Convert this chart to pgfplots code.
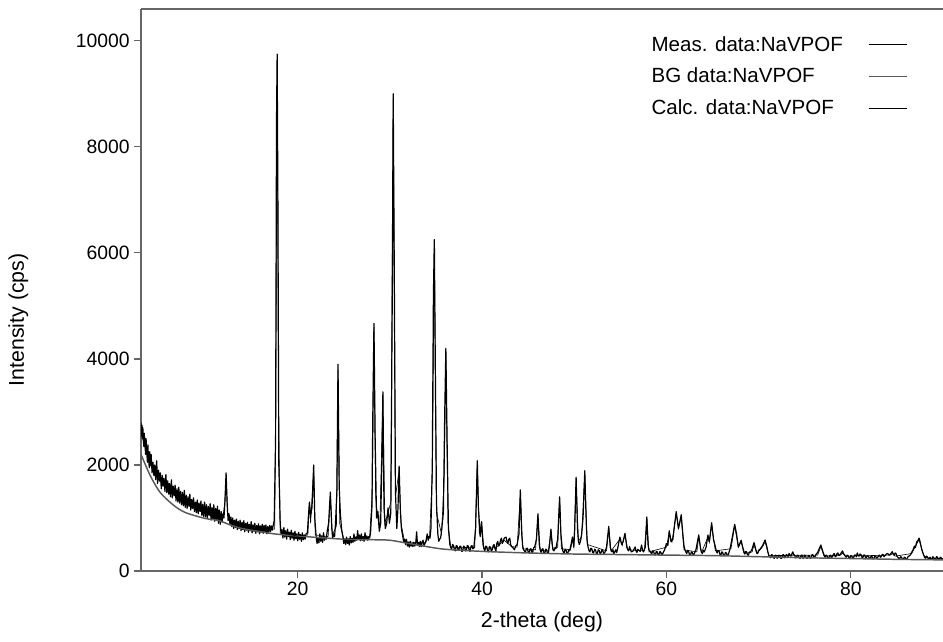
\documentclass[border=0pt]{standalone}
\usepackage{fontspec}
\setmainfont{Liberation Sans}
\usepackage{pgfplots}
\pgfplotsset{compat=1.18}
\begin{document}
\begin{tikzpicture}
\begin{axis}[name=ax,
  scale only axis, width=601.5pt, height=421.5pt,
  xmin=3, xmax=90, ymin=0, ymax=10600,
  axis x line*=box, axis y line*=left,
  xtick={20,40,60,80}, ytick={0,2000,4000,6000,8000,10000},
  xtick pos=left, ytick pos=left,
  tick align=outside, major tick length=5pt, minor tick num=0,
  axis line style={draw=black!60, line width=0.9pt},
  tick style={draw=black!60, line width=0.9pt},
  scaled y ticks=false,
  /pgf/number format/1000 sep={},
  /pgf/number format/assume math mode=true,
  tick label style={font=\fontsize{14.5}{17}\selectfont},
  label style={font=\fontsize{16}{19}\selectfont},
  xlabel={2-theta (deg)}, ylabel={Intensity (cps)},
  xlabel style={at={(axis description cs:0.5,-0.0907)},anchor=center},
  ylabel style={at={(axis description cs:-0.153,0.447)},anchor=center},
  legend plot pos=right,
  legend cell align=left,
  legend image code/.code={\draw[#1, line width=0.7pt] (0pt,0pt) -- (29pt,0pt);},
  legend style={draw=none, fill=none, font=\fontsize{15.4}{18}\selectfont,
    at={(axis description cs:0.628,0.961)}, anchor=north west,
    column sep=17pt, row sep=7pt},
]
\addplot[black, line width=0.9pt, line join=round] table {
3.0 2800
3.05 2550
3.1 2750
3.15 2500
3.2 2700
3.3 2350
3.35 2600
3.4 2450
3.5 2200
3.55 2500
3.6 2300
3.7 2050
3.75 2380
3.8 2150
3.9 1950
3.95 2250
4.0 2000
4.1 2200
4.2 1850
4.3 2050
4.4 1800
4.5 2000
4.6 1720
4.7 2080
4.8 1650
4.9 1900
5.0 1700
5.1 1850
5.2 1550
5.3 1800
5.4 1600
5.5 1750
5.6 1500
5.7 1820
5.8 1480
5.9 1700
6.0 1450
6.1 1650
6.2 1400
6.3 1720
6.4 1380
6.5 1600
6.6 1420
6.7 1620
6.8 1320
6.9 1550
7.0 1300
7.1 1580
7.2 1280
7.3 1500
7.4 1250
7.5 1480
7.6 1230
7.7 1520
7.8 1200
7.9 1430
8.0 1180
8.1 1400
8.2 1220
8.3 1450
8.4 1150
8.5 1350
8.6 1180
8.7 1380
8.8 1120
8.9 1300
9.0 1100
9.1 1340
9.2 1080
9.3 1280
9.4 1120
9.5 1320
9.6 1050
9.7 1260
9.8 1030
9.9 1300
10.0 1020
10.1 1250
10.2 990
10.3 1220
10.4 1050
10.5 1270
10.6 960
10.7 1200
10.8 980
10.9 1250
11.0 940
11.1 1180
11.2 960
11.3 1220
11.4 900
11.5 1150
11.6 880
11.7 1120
11.8 920
11.9 1080
12.0 1000
12.1 1300
12.23 1850
12.35 1250
12.45 950
12.55 1080
12.65 880
12.75 1020
12.85 840
12.95 1000
13.05 800
13.15 960
13.25 820
13.35 980
13.45 780
13.55 940
13.65 800
13.75 960
13.85 760
13.95 920
14.05 780
14.15 950
14.25 740
14.35 900
14.45 770
14.55 920
14.65 730
14.75 880
14.85 760
14.95 930
15.05 720
15.15 870
15.25 750
15.35 900
15.45 710
15.55 860
15.65 740
15.75 890
15.85 700
15.95 850
16.05 730
16.15 880
16.25 710
16.35 860
16.45 740
16.55 870
16.65 700
16.75 840
16.85 730
16.95 860
17.05 740
17.15 850
17.25 770
17.35 870
17.45 950
17.6 2500
17.7 8500
17.77 9750
17.85 7000
17.95 2000
18.1 900
18.2 700
18.3 780
18.4 620
18.5 820
18.6 640
18.7 760
18.8 600
18.9 790
19.0 650
19.1 730
19.2 590
19.3 770
19.4 620
19.5 720
19.6 580
19.7 750
19.8 610
19.9 700
20.0 570
20.1 730
20.2 600
20.3 690
20.4 560
20.5 720
20.6 590
20.7 680
20.8 600
20.9 700
21.05 720
21.15 1000
21.27 1300
21.4 1050
21.55 1200
21.73 2000
21.85 1000
22.0 650
22.1 520
22.2 620
22.3 530
22.4 700
22.5 560
22.6 650
22.7 540
22.8 720
22.9 580
23.0 640
23.1 600
23.2 750
23.35 900
23.54 1490
23.7 800
23.8 620
23.9 700
24.0 650
24.1 900
24.25 1500
24.37 3900
24.5 1600
24.62 1100
24.75 800
24.9 650
25.0 520
25.1 600
25.2 500
25.3 640
25.4 520
25.5 580
25.6 490
25.7 650
25.8 530
25.9 600
26.0 540
26.1 700
26.2 560
26.3 640
26.4 580
26.5 760
26.6 600
26.7 680
26.8 570
26.9 700
27.0 580
27.1 650
27.2 560
27.3 720
27.4 600
27.5 660
27.6 580
27.7 650
27.8 620
27.9 720
28.05 1200
28.15 3000
28.27 4670
28.4 2500
28.55 1000
28.7 1120
28.85 750
29.0 900
29.12 2000
29.24 3380
29.36 1200
29.5 800
29.65 900
29.8 1190
29.95 900
30.1 1100
30.25 5000
30.36 9000
30.48 5500
30.6 1500
30.75 800
30.88 1200
31.0 1980
31.12 1200
31.25 800
31.4 650
31.5 540
31.6 600
31.7 500
31.8 600
31.9 470
32.0 540
32.1 450
32.2 560
32.3 470
32.4 520
32.5 460
32.6 540
32.7 470
32.8 520
32.9 740
33.0 480
33.1 540
33.2 460
33.3 560
33.4 460
33.5 540
33.6 580
33.7 480
33.8 520
33.9 560
34.05 700
34.15 580
34.25 650
34.35 620
34.45 800
34.6 2000
34.72 5200
34.82 6250
34.92 4000
35.05 1300
35.2 700
35.3 560
35.4 600
35.5 620
35.6 750
35.8 1100
35.95 3000
36.07 4200
36.2 2500
36.35 800
36.5 500
36.6 440
36.7 420
36.8 500
36.9 480
37.0 400
37.1 380
37.2 480
37.3 470
37.4 390
37.5 400
37.6 470
37.7 460
37.8 370
37.9 380
38.0 470
38.1 450
38.2 380
38.3 400
38.4 480
38.5 470
38.6 390
38.7 370
38.8 470
38.9 480
39.0 420
39.1 430
39.3 800
39.48 2080
39.6 1200
39.8 650
39.95 930
40.1 500
40.2 420
40.3 380
40.4 470
40.5 460
40.6 380
40.7 360
40.8 460
40.9 450
41.0 380
41.1 400
41.2 480
41.3 500
41.4 420
41.5 380
41.6 520
41.7 560
41.8 470
41.9 500
42.0 580
42.1 620
42.2 520
42.3 560
42.4 620
42.6 640
42.7 560
42.8 520
42.9 600
43.0 620
43.1 500
43.2 460
43.35 440
43.5 400
43.65 470
43.8 500
44.0 700
44.15 1530
44.3 700
44.4 480
44.5 400
44.6 380
44.7 350
44.8 420
44.9 430
45.0 360
45.1 340
45.2 410
45.3 420
45.4 350
45.5 360
45.6 440
45.7 450
45.9 600
46.06 1080
46.2 500
46.3 400
46.4 350
46.5 410
46.6 420
46.7 340
46.8 330
46.9 410
47.0 400
47.1 330
47.2 340
47.35 550
47.47 790
47.6 500
47.7 400
47.8 380
47.9 440
48.0 420
48.2 600
48.41 1400
48.55 700
48.7 420
48.8 360
48.9 340
49.0 410
49.1 400
49.2 330
49.3 330
49.4 400
49.5 380
49.65 500
49.8 640
49.95 450
50.05 800
50.2 1770
50.35 800
50.45 560
50.55 500
50.7 580
50.8 700
50.95 1000
51.14 1890
51.3 900
51.4 560
51.5 450
51.6 380
51.7 360
51.8 430
51.9 420
52.0 350
52.1 340
52.2 410
52.3 400
52.4 330
52.5 330
52.6 400
52.7 390
52.8 330
52.9 340
53.0 400
53.1 380
53.2 330
53.3 340
53.5 450
53.74 840
53.9 450
54.0 380
54.1 360
54.2 400
54.3 330
54.4 360
54.5 400
54.6 350
54.7 420
54.95 640
55.15 500
55.3 560
55.5 710
55.7 450
55.8 400
55.9 380
56.0 460
56.1 400
56.2 360
56.4 380
56.6 455
56.7 380
56.8 350
56.9 410
57.0 390
57.15 370
57.3 490
57.4 400
57.5 360
57.7 450
57.87 1020
58.0 500
58.1 400
58.2 380
58.3 350
58.4 320
58.5 380
58.6 370
58.7 310
58.8 300
58.9 370
59.0 360
59.1 300
59.2 310
59.3 370
59.4 350
59.5 300
59.6 330
59.8 400
60.0 520
60.15 480
60.3 760
60.5 550
60.7 600
60.9 900
61.06 1120
61.3 800
61.6 1060
61.8 650
61.9 480
62.0 400
62.1 360
62.2 330
62.3 390
62.4 370
62.5 310
62.6 300
62.7 360
62.8 350
62.9 300
63.0 320
63.2 400
63.5 680
63.7 420
63.8 350
63.9 330
64.0 390
64.1 360
64.3 450
64.5 680
64.65 550
64.9 910
65.1 600
65.3 460
65.4 380
65.5 340
65.6 390
65.7 380
65.8 310
65.9 300
66.0 360
66.1 350
66.2 290
66.3 290
66.4 350
66.5 340
66.6 290
66.7 300
66.9 420
67.1 600
67.4 880
67.6 700
67.8 450
68.1 580
68.3 420
68.4 350
68.5 320
68.6 370
68.7 360
68.8 300
68.9 300
69.0 360
69.1 350
69.3 420
69.5 535
69.7 400
69.8 340
69.9 330
70.0 390
70.1 400
70.4 470
70.7 585
70.9 450
71.0 360
71.1 300
71.2 270
71.3 250
71.4 310
71.5 300
71.6 250
71.7 240
71.8 300
71.9 290
72.0 240
72.1 250
72.2 300
72.3 280
72.4 240
72.5 240
72.6 300
72.7 310
72.8 250
72.9 260
73.0 310
73.1 300
73.2 270
73.3 330
73.4 300
73.5 280
73.6 320
73.7 360
73.8 310
73.9 300
74.0 250
74.1 260
74.2 300
74.3 290
74.4 250
74.5 240
74.6 290
74.7 300
74.8 240
74.9 250
75.0 300
75.1 280
75.2 240
75.3 240
75.4 290
75.5 290
75.6 240
75.7 250
75.8 310
75.9 300
76.0 260
76.1 270
76.25 320
76.4 350
76.6 430
76.75 490
76.9 400
77.0 350
77.1 300
77.2 260
77.3 300
77.4 290
77.5 250
77.6 240
77.7 290
77.8 300
77.9 250
78.0 270
78.1 310
78.2 330
78.3 270
78.4 280
78.5 330
78.6 340
78.7 290
78.8 300
78.95 340
79.1 380
79.2 330
79.3 310
79.4 280
79.5 260
79.6 300
79.7 290
79.8 250
79.9 240
80.0 290
80.1 280
80.2 240
80.3 250
80.4 300
80.5 300
80.6 270
80.7 340
80.8 290
80.9 280
81.0 320
81.1 310
81.2 260
81.3 250
81.4 300
81.5 300
81.6 250
81.7 260
81.8 290
81.9 280
82.0 240
82.1 240
82.2 280
82.3 270
82.4 230
82.5 230
82.6 280
82.7 280
82.8 240
82.9 250
83.0 290
83.1 300
83.2 260
83.3 270
83.4 310
83.5 310
83.6 270
83.7 290
83.85 320
84.0 330
84.15 300
84.3 320
84.5 365
84.6 320
84.7 300
84.8 340
84.9 330
85.0 280
85.1 260
85.2 240
85.3 230
85.4 270
85.5 260
85.6 220
85.7 220
85.8 260
85.9 250
86.0 220
86.1 230
86.2 270
86.3 280
86.45 300
86.6 350
86.75 400
86.9 470
87.0 440
87.15 550
87.3 580
87.4 620
87.5 560
87.6 480
87.7 400
87.8 350
87.9 300
88.0 260
88.1 240
88.2 280
88.3 270
88.4 230
88.5 240
88.6 260
88.7 220
88.8 220
88.9 270
89.0 250
89.1 220
89.2 230
89.3 270
89.4 260
89.5 220
89.6 220
89.7 260
89.8 250
89.9 220
90.0 230
};
\addlegendentry{Meas. data:NaVPOF}
\addplot[black!65, line width=1.1pt, smooth] table {
3.0 2200
4 1800
5 1500
6 1320
7 1180
8 1090
10 990
11.5 950
12.5 880
14 800
16 740
17 711
18 690
21 647
25 600
28 590
30 580
32 520
34 460
36 410
40 370
45 340
50 320
55 310
60 300
65 290
70 270
75 250
80 235
85 220
90 210
};
\addlegendentry{BG data:NaVPOF}
\addplot[black, line width=0.45pt] table {
3.0 2600
3.5 2300
4 2000
5 1700
6 1520
7 1380
8 1270
9 1190
10 1120
11 1070
11.9 1040
12.1 1300
12.23 1750
12.4 1100
12.6 920
14 850
16 790
17.5 790
17.62 3000
17.77 9600
17.92 3000
18.1 720
20 660
21.1 680
21.27 1250
21.4 900
21.73 1900
21.9 680
23.3 650
23.54 1400
23.75 680
24.2 850
24.37 3800
24.55 900
25 600
27.8 640
28.1 1500
28.27 4600
28.45 1400
28.7 1000
28.9 800
29.24 3300
29.45 900
29.8 1100
30.1 1300
30.36 8900
30.6 1400
31.0 1900
31.2 900
31.6 550
33.9 530
34.05 650
34.3 650
34.6 1800
34.82 6150
35.05 1100
35.6 700
35.9 1800
36.07 4100
36.3 900
36.6 450
39.2 440
39.48 2000
39.7 700
39.95 880
40.2 430
41.5 440
42.4 580
43.2 460
43.8 450
44.15 1450
44.4 420
45.8 400
46.06 1030
46.3 390
47.2 380
47.47 750
47.7 390
48.2 450
48.41 1350
48.6 420
49.6 400
49.8 600
49.95 460
50.2 1700
50.45 560
50.8 650
51.14 1850
51.4 500
53.5 380
53.74 800
54 380
54.95 600
55.2 480
55.5 680
55.8 400
57.6 380
57.87 980
58.1 360
60 450
60.3 720
60.6 550
61.06 1080
61.3 800
61.6 1020
61.9 400
63.3 360
63.5 640
63.8 350
64.5 640
64.65 540
64.9 870
65.3 380
67.0 420
67.4 850
67.8 450
68.1 550
68.5 330
69.3 360
69.5 500
69.8 330
70.4 450
70.7 550
71.1 290
76.4 300
76.75 460
77.1 280
78.9 300
79.1 340
79.4 280
84.3 300
84.5 330
84.8 280
86.6 330
87.4 590
87.9 300
88.2 250
90 230
};
\addlegendentry{Calc. data:NaVPOF}
\end{axis}
\pgfresetboundingbox
\path[use as bounding box] ([xshift=-105.75pt,yshift=-52.5pt]ax.south west) rectangle ([yshift=6.75pt]ax.north east);
\end{tikzpicture}
\end{document}
